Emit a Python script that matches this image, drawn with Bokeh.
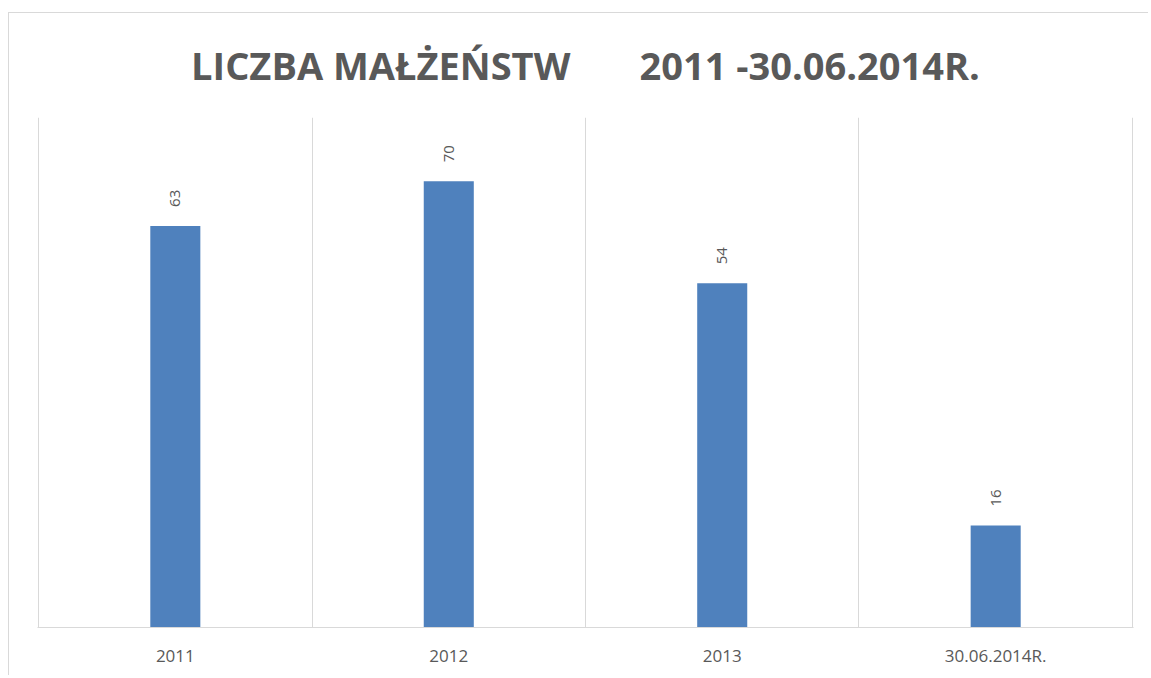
import math
from bokeh.plotting import figure
from bokeh.models import Range1d, FixedTicker, Grid, Title, ColumnDataSource
from bokeh.core.properties import value
from bokeh.embed import file_html
from bokeh.resources import INLINE

categories = ["2011", "2012", "2013", "30.06.2014R."]
counts = [63, 70, 54, 16]
title_text = "LICZBA MAŁŻEŃSTW\u00a0\u00a0\u00a0\u00a0\u00a0\u00a0 2011 -30.06.2014R."

TEXT = "#595959"
GRID = "#d9d9d9"
BAR = "#4f81bd"

n = len(categories)
centers = [i + 0.5 for i in range(n)]
source = ColumnDataSource(dict(x=centers, top=counts, label=[str(v) for v in counts]))

p = figure(width=1140, height=663, output_backend="svg", toolbar_location=None,
           x_range=Range1d(-0.004, n + 0.004), y_range=Range1d(0, 80),
           min_border_left=28, min_border_right=16, min_border_top=104, min_border_bottom=49,
           styles={"border-top": "1px solid #d9d9d9", "border-left": "1px solid #d9d9d9",
                   "margin-top": "12px", "margin-left": "8px"})
p.outline_line_color = None
p.background_fill_color = "white"
p.border_fill_color = "white"

p.title = Title(text=title_text, align="center", vertical_align="top", text_font="Open Sans",
                text_font_size="38px", text_font_style="bold", text_color=TEXT, standoff=50)

p.xgrid.visible = False
p.ygrid.visible = False
p.add_layout(Grid(dimension=0, ticker=FixedTicker(ticks=list(range(n + 1))),
                  grid_line_color=GRID, grid_line_width=1))

p.vbar(x="x", top="top", width=0.183, bottom=0, source=source, color=BAR, line_color=None)

p.text(x="x", y="top", text="label", source=source, angle=math.pi / 2,
       text_align="left", text_baseline="middle", y_offset=-19,
       text_font=value("Open Sans"), text_font_size="15px", text_color=TEXT)

p.yaxis.visible = False
xa = p.xaxis[0]
xa.ticker = FixedTicker(ticks=centers)
xa.major_label_overrides = {c: lab for c, lab in zip(centers, categories)}
xa.major_tick_line_color = None
xa.minor_tick_line_color = None
xa.axis_line_color = GRID
xa.axis_line_width = 1
xa.major_label_standoff = 10
xa.major_label_text_font = "Open Sans"
xa.major_label_text_font_size = "17px"
xa.major_label_text_color = TEXT

open("out.html", "w").write(file_html(p, INLINE))
